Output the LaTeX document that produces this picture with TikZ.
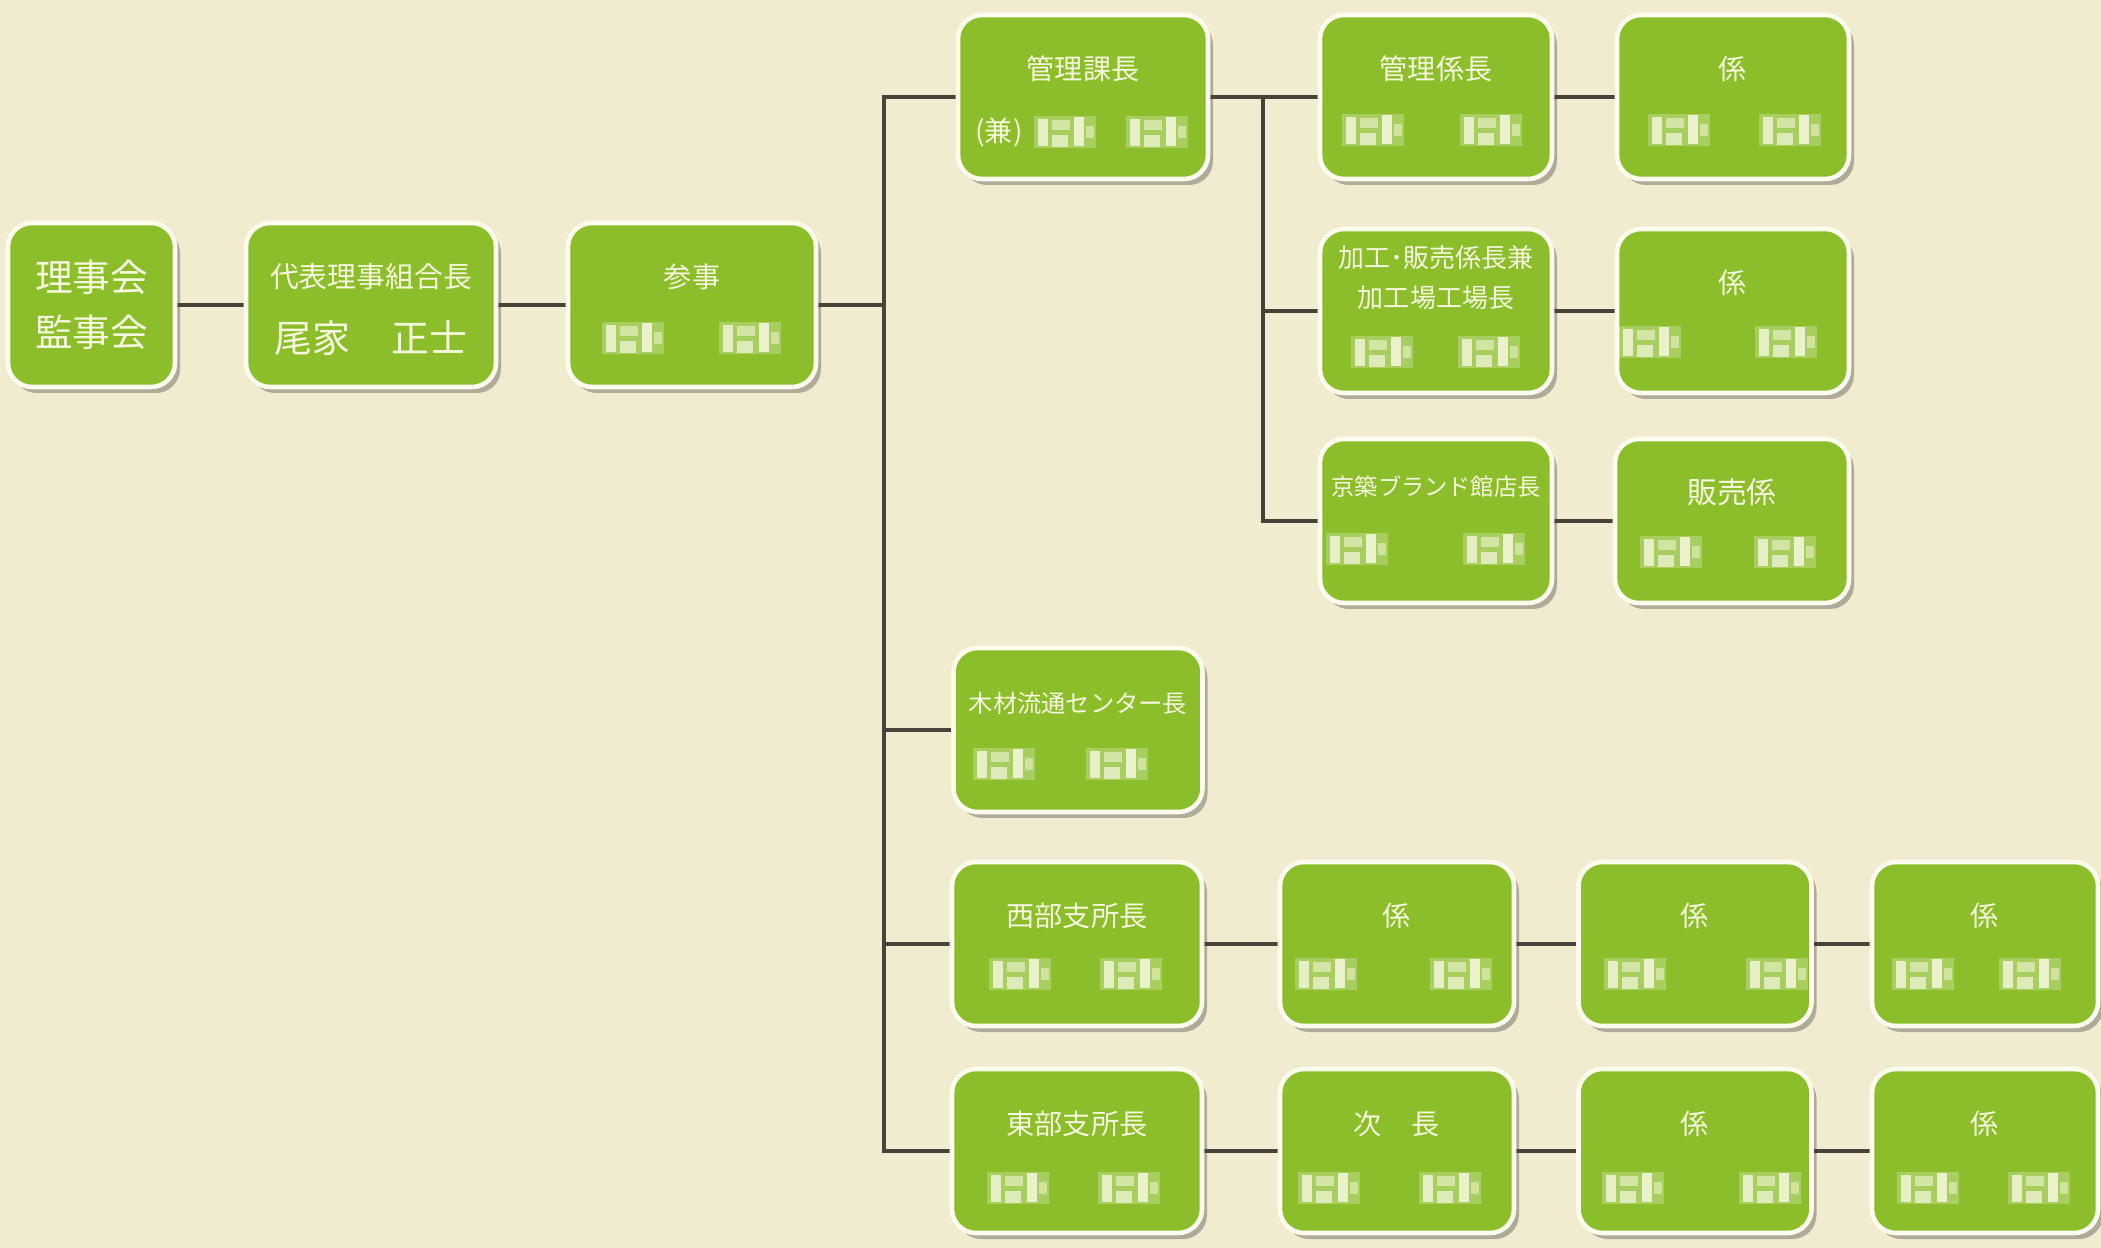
\documentclass[tikz,border=0pt]{standalone}
\usepackage{fontspec}
\setmainfont{Noto Sans CJK JP}
\usetikzlibrary{shadows,backgrounds}
\definecolor{paper}{RGB}{241,235,208}
\definecolor{leaf}{RGB}{139,190,42}
\definecolor{rim}{RGB}{252,252,238}
\definecolor{ink}{RGB}{246,248,222}
\definecolor{wirecol}{RGB}{70,68,58}
\tikzset{
  tile/.style={rectangle,rounded corners=0.24cm,fill=leaf,draw=rim,line width=1.3pt,
    minimum height=1.64cm,inner sep=0pt,text=ink,align=center,
    drop shadow={shadow xshift=0.05cm,shadow yshift=-0.06cm,opacity=0.4,fill=black!70}},
  role/.style={tile,font=\fontsize{8}{10}\selectfont,text height=0.22cm,text depth=0.56cm},
  wire/.style={wirecol,line width=1.2pt},
  mosaic/.pic={
    \fill[white,opacity=.25] (-0.31,-0.16) rectangle (0.31,0.16);
    \fill[ink,opacity=.8] (-0.27,-0.14) rectangle (-0.17,0.13);
    \fill[ink,opacity=.55] (-0.13,0.02) rectangle (0.05,0.12);
    \fill[ink,opacity=.7] (-0.13,-0.15) rectangle (0.03,-0.03);
    \fill[ink,opacity=.85] (0.09,-0.14) rectangle (0.19,0.15);
    \fill[ink,opacity=.5] (0.21,-0.06) rectangle (0.29,0.06);
  }
}
\begin{document}
\begin{tikzpicture}
\begin{scope}[on background layer]
  \fill[paper] (0,0) rectangle (21.01,-12.48);
\end{scope}
\useasboundingbox (0,0) rectangle (21.01,-12.48);

\node[tile,minimum width=1.67cm,font=\fontsize{10.7}{15.6}\selectfont] (rijikai) at (0.915,-3.05) {理事会\\監事会};
\node[role,minimum width=2.5cm,font=\fontsize{8.2}{10}\selectfont] (kumiaicho) at (3.71,-3.05) {代表理事組合長};
\node[text=ink,font=\fontsize{10.8}{12}\selectfont] (oie) at ([yshift=-0.33cm]kumiaicho.center) {尾家\hspace{0.42cm}正士};
\node[role,minimum width=2.48cm] (sanji) at (6.92,-3.05) {参事};

\node[role,minimum width=2.5cm] (kanrika) at (10.83,-0.97) {管理課長};
\node[text=ink,font=\fontsize{8}{10}\selectfont] (ken) at ([shift={(-0.84,-0.35)}]kanrika.center) {(兼)};
\node[role,minimum width=2.32cm] (kanrikakari) at (14.36,-0.97) {管理係長};
\node[role,minimum width=2.32cm] (kakari1) at (17.33,-0.97) {係};
\node[tile,minimum width=2.32cm,font=\fontsize{7.4}{11.4}\selectfont,text height=0.5cm,text depth=0.56cm] (kakou) at (14.36,-3.11) {加工･販売係長兼\\加工場工場長};
\node[role,minimum width=2.32cm] (kakari2) at (17.33,-3.11) {係};
\node[role,minimum width=2.32cm,font=\fontsize{6.6}{9}\selectfont,text height=0.22cm,text depth=0.72cm] (keichiku) at (14.36,-5.21) {京築ブランド館店長};
\node[role,minimum width=2.34cm,font=\fontsize{8.5}{10}\selectfont] (hanbai) at (17.32,-5.21) {販売係};

\node[role,minimum width=2.49cm,font=\fontsize{6.9}{9}\selectfont] (mokuzai) at (10.78,-7.30) {木材流通センター長};

\node[role,minimum width=2.5cm] (seibu) at (10.77,-9.44) {西部支所長};
\node[role,minimum width=2.34cm] (seibu1) at (13.97,-9.44) {係};
\node[role,minimum width=2.33cm] (seibu2) at (16.95,-9.44) {係};
\node[role,minimum width=2.26cm] (seibu3) at (19.85,-9.44) {係};

\node[role,minimum width=2.5cm] (tobu) at (10.77,-11.51) {東部支所長};
\node[role,minimum width=2.34cm] (jicho) at (13.97,-11.51) {次\hspace{0.3cm}長};
\node[role,minimum width=2.33cm] (tobu2) at (16.95,-11.51) {係};
\node[role,minimum width=2.26cm] (tobu3) at (19.85,-11.51) {係};

\pic at ([shift={(-0.18,-0.35)}]kanrika.center) {mosaic};
\pic at ([shift={(0.74,-0.35)}]kanrika.center) {mosaic};
\foreach \n/\a/\b/\y in {sanji/-0.59/0.58/-0.33,kanrikakari/-0.63/0.55/-0.33,kakari1/-0.54/0.57/-0.33,
    kakou/-0.54/0.53/-0.41,kakari2/-0.83/0.53/-0.31,keichiku/-0.79/0.58/-0.28,hanbai/-0.61/0.53/-0.31,
    mokuzai/-0.74/0.39/-0.34,seibu/-0.57/0.54/-0.30,seibu1/-0.71/0.64/-0.30,seibu2/-0.60/0.82/-0.30,
    seibu3/-0.62/0.45/-0.30,tobu/-0.59/0.52/-0.37,jicho/-0.68/0.53/-0.37,tobu2/-0.62/0.75/-0.37,
    tobu3/-0.57/0.54/-0.37}{
  \pic at ([shift={(\a,\y)}]\n.center) {mosaic};
  \pic at ([shift={(\b,\y)}]\n.center) {mosaic};
}

\coordinate (spine) at (8.84,0);
\coordinate (spine2) at (12.63,0);
\begin{scope}[on background layer]
  \draw[wire] (rijikai.east) -- (kumiaicho.west);
  \draw[wire] (kumiaicho.east) -- (sanji.west);
  \draw[wire] (sanji.east) -- (sanji.east -| spine);
  \draw[wire] (kanrika.west) -- (kanrika.west -| spine) -- (tobu.west -| spine) -- (tobu.west);
  \draw[wire] (mokuzai.west) -- (mokuzai.west -| spine);
  \draw[wire] (seibu.west) -- (seibu.west -| spine);
  \draw[wire] (kanrika.east) -- (kanrikakari.west);
  \draw[wire] (kanrika.east -| spine2) -- (keichiku.west -| spine2) -- (keichiku.west);
  \draw[wire] (kakou.west) -- (kakou.west -| spine2);
  \draw[wire] (kanrikakari.east) -- (kakari1.west);
  \draw[wire] (kakou.east) -- (kakari2.west);
  \draw[wire] (keichiku.east) -- (hanbai.west);
  \draw[wire] (seibu.east) -- (seibu1.west);
  \draw[wire] (seibu1.east) -- (seibu2.west);
  \draw[wire] (seibu2.east) -- (seibu3.west);
  \draw[wire] (tobu.east) -- (jicho.west);
  \draw[wire] (jicho.east) -- (tobu2.west);
  \draw[wire] (tobu2.east) -- (tobu3.west);
\end{scope}
\end{tikzpicture}
\end{document}
